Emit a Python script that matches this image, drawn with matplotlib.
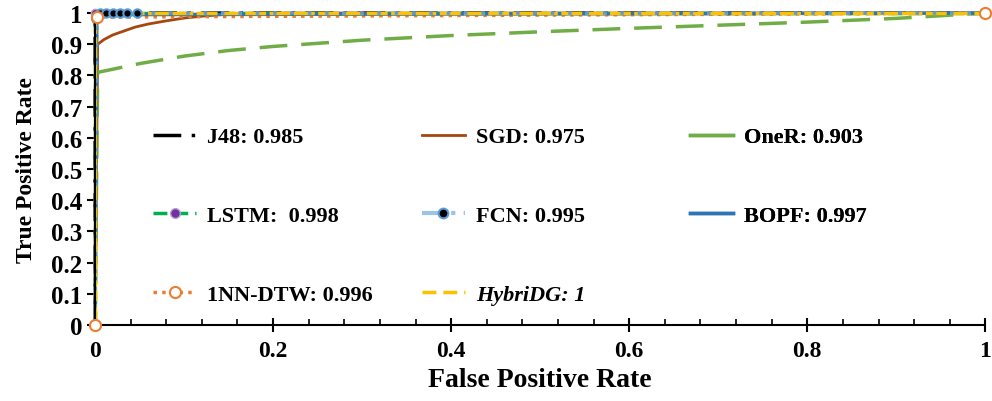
import numpy as np
import matplotlib
matplotlib.use("Agg")
import matplotlib.pyplot as plt
from matplotlib.lines import Line2D
from matplotlib.ticker import MultipleLocator, FuncFormatter

plt.rcParams['font.family'] = ['Liberation Serif', 'DejaVu Serif']
plt.rcParams['font.weight'] = 'bold'

# ROC points per classifier (false positive rate, true positive rate)
j48_fpr = [0, 0.0, 0.002, 1]
j48_tpr = [0, 0.97, 1, 1]

sgd_fpr = [0, 0.003, 0.01, 0.02, 0.03, 0.045, 0.06, 0.08, 0.1, 0.12, 0.15, 0.18, 1]
sgd_tpr = [0, 0.90, 0.915, 0.93, 0.94, 0.955, 0.965, 0.975, 0.984, 0.99, 0.997, 1, 1]

oner_fpr = [0, 0.003, 0.02, 0.05, 0.1, 0.15, 0.2, 0.3, 0.4, 0.5, 0.6, 0.7, 0.8, 0.9, 1]
oner_tpr = [0, 0.81, 0.82, 0.838, 0.862, 0.88, 0.893, 0.913, 0.928, 0.94, 0.951, 0.961, 0.971, 0.983, 1]

lstm_fpr = [0, 0, 1]
lstm_tpr = [0, 1, 1]

fcn_fpr = [0, 0.001, 0.006, 0.012, 0.02, 0.028, 0.036, 0.047, 1]
fcn_tpr = [0, 0.98, 1, 1, 1, 1, 1, 1, 1]

bopf_fpr = [0, 0.002, 1]
bopf_tpr = [0, 0.995, 1]

nn_fpr = [0, 0.002, 1]
nn_tpr = [0, 0.987, 1]

hyb_fpr = [0, 0, 1]
hyb_tpr = [0, 1, 1]

labels = ["J48: 0.985", "SGD: 0.975", "OneR: 0.903", "LSTM:  0.998", "FCN: 0.995",
          "BOPF: 0.997", "1NN-DTW: 0.996", "HybriDG: 1"]

fig = plt.figure(figsize=(9.92, 4.02), dpi=100)
ax = fig.add_axes([0.0958, 0.189, 0.8975, 0.776])

ax.plot(j48_fpr, j48_tpr, color='black', lw=2.5, ls=(0, (8, 3, 1, 3)), clip_on=False)
ax.plot(sgd_fpr, sgd_tpr, color='#A5470E', lw=2, clip_on=False)
ax.plot(oner_fpr, oner_tpr, color='#70AD47', lw=2.5, ls=(0, (8, 4)), clip_on=False)
ax.plot(lstm_fpr, lstm_tpr, color='#00B050', lw=2.5, ls=(0, (4, 2)), marker='o', ms=6,
        mfc='#7030A0', mec='#B4A0D0', clip_on=False)
ax.plot(nn_fpr, nn_tpr, color='#ED7D31', lw=2.5, ls=(0, (1, 1.5)), clip_on=False)
ax.plot(bopf_fpr, bopf_tpr, color='#2E75B6', lw=2.5, clip_on=False)
ax.plot(hyb_fpr, hyb_tpr, color='#FFC000', lw=2.5, ls=(0, (6, 1)), clip_on=False)
ax.plot(fcn_fpr, fcn_tpr, color='#5B9BD5', lw=2.5, ls=(0, (1, 4)), marker='o', ms=6,
        mfc='black', mec='#5B9BD5', mew=1.5, clip_on=False)
# 1NN-DTW markers kept on top of the other curves
ax.plot(nn_fpr, nn_tpr, ls='none', marker='o', ms=8, mfc='white', mec='#ED7D31',
        mew=1.5, clip_on=False, zorder=5)

ax.set_xlim(0, 1)
ax.set_ylim(0, 1)
ax.spines['top'].set_visible(False)
ax.spines['right'].set_visible(False)
for s in ['left', 'bottom']:
    ax.spines[s].set_linewidth(1.5)

ax.xaxis.set_major_locator(MultipleLocator(0.2))
ax.xaxis.set_minor_locator(MultipleLocator(0.04))
ax.yaxis.set_major_locator(MultipleLocator(0.1))
fmt = FuncFormatter(lambda v, p: '%g' % round(v, 2))
ax.xaxis.set_major_formatter(fmt)
ax.yaxis.set_major_formatter(fmt)
ax.tick_params(axis='x', which='major', direction='inout', length=10, width=1.5,
               labelsize=17, pad=6)
ax.tick_params(axis='x', which='minor', direction='in', length=4, width=1.2)
ax.tick_params(axis='y', which='major', direction='out', length=6, width=1.5,
               labelsize=18, pad=3)

ax.set_xlabel('False Positive Rate', fontsize=20, fontweight='bold', labelpad=4)
ax.set_ylabel('True Positive Rate', fontsize=17, fontweight='bold', labelpad=10)

# legend proxies, drawn as three separate columns
handles = [
    Line2D([], [], color='black', lw=2.5, ls=(0, (8, 3, 1, 3))),
    Line2D([], [], color='#A5470E', lw=2),
    Line2D([], [], color='#70AD47', lw=2.5),
    Line2D([], [], color='#00B050', lw=2.5, ls=(0, (4, 2)), marker='o', ms=7,
           mfc='#7030A0', mec='#B4A0D0'),
    Line2D([], [], color='#9DC3E6', lw=3, ls=(0, (5, 2, 1, 2)), marker='o', ms=7,
           mfc='black', mec='#5B9BD5', mew=1.5),
    Line2D([], [], color='#2E75B6', lw=2.5),
    Line2D([], [], color='#ED7D31', lw=2.5, ls=(0, (1, 1.5)), marker='o', ms=8,
           mfc='white', mec='#ED7D31', mew=1.5),
    Line2D([], [], color='#FFC000', lw=2.5, ls=(0, (4, 2))),
]
col_x = [0.065, 0.367, 0.668]
for c in range(3):
    idx = list(range(c, 8, 3))
    leg = ax.legend([handles[i] for i in idx], [labels[i] for i in idx],
                    loc='upper left', bbox_to_anchor=(col_x[c], 0.635),
                    frameon=False, handlelength=1.95, handletextpad=0.5,
                    labelspacing=2.62, borderpad=0, borderaxespad=0, numpoints=1,
                    prop={'weight': 'bold', 'size': 16})
    for t in leg.get_texts():
        if t.get_text().startswith('HybriDG'):
            t.set_fontstyle('italic')
    ax.add_artist(leg)

fig.savefig('out.png', dpi=100)
